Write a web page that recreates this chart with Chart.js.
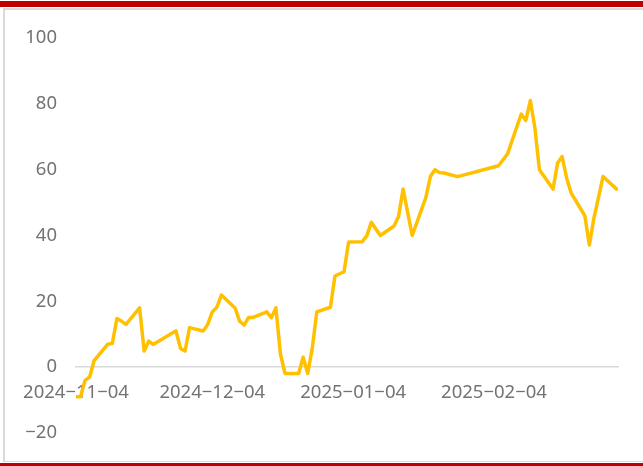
<!DOCTYPE html>
<html>
<head>
<meta charset="utf-8">
<script src="https://cdn.jsdelivr.net/npm/chart.js@4.4.1/dist/chart.umd.min.js"></script>
<style>
  html, body { margin: 0; padding: 0; background: #fff; }
  #wrap { position: relative; width: 643px; height: 466px; overflow: hidden; }
  .bar { position: absolute; }
  #chart { position: absolute; left: 0; top: 0; }
</style>
</head>
<body>
<div id="wrap">
  <div class="bar" style="left:0;top:1px;width:643px;height:6px;background:#c00000"></div>
  <div class="bar" style="left:3px;top:8px;width:640px;height:2px;background:#d9d9d9"></div>
  <div class="bar" style="left:3px;top:8px;width:2px;height:454px;background:#d9d9d9"></div>
  <div class="bar" style="left:3px;top:461px;width:640px;height:1px;background:#d9d9d9"></div>
  <div class="bar" style="left:0;top:463px;width:643px;height:3px;background:#c00000"></div>
  <canvas id="chart" width="643" height="466"></canvas>
</div>
<script>
// trading days and index values
const dates = [
  '2024-11-04', '2024-11-05', '2024-11-06', '2024-11-07', '2024-11-08',
  '2024-11-11', '2024-11-12', '2024-11-13', '2024-11-14', '2024-11-15',
  '2024-11-18', '2024-11-19', '2024-11-20', '2024-11-21', '2024-11-22',
  '2024-11-25', '2024-11-26', '2024-11-27', '2024-11-28', '2024-11-29',
  '2024-12-02', '2024-12-03', '2024-12-04', '2024-12-05', '2024-12-06',
  '2024-12-09', '2024-12-10', '2024-12-11', '2024-12-12', '2024-12-13',
  '2024-12-16', '2024-12-17', '2024-12-18', '2024-12-19', '2024-12-20',
  '2024-12-23', '2024-12-24', '2024-12-25', '2024-12-26', '2024-12-27',
  '2024-12-30', '2024-12-31', '2025-01-02', '2025-01-03',
  '2025-01-06', '2025-01-07', '2025-01-08', '2025-01-09', '2025-01-10',
  '2025-01-13', '2025-01-14', '2025-01-15', '2025-01-16', '2025-01-17',
  '2025-01-20', '2025-01-21', '2025-01-22', '2025-01-23', '2025-01-24',
  '2025-01-27', '2025-02-05', '2025-02-06', '2025-02-07',
  '2025-02-10', '2025-02-11', '2025-02-12', '2025-02-13', '2025-02-14',
  '2025-02-17', '2025-02-18', '2025-02-19', '2025-02-20', '2025-02-21',
  '2025-02-24', '2025-02-25', '2025-02-26', '2025-02-27', '2025-02-28',
  '2025-03-03'
];
const values = [
  -9, -9, -4, -3, 2,
  7, 7.2, 14.8, 14, 13,
  18, 4.9, 7.9, 6.9, 7.7,
  10.2, 11, 5.7, 4.9, 12,
  11, 13, 16.8, 18.2, 21.9,
  18, 14, 12.8, 15.1, 15.1,
  16.8, 15, 18, 4, -1.9,
  -1.9, 3, -1.9, 5.7, 16.8,
  18.2, 27.7, 29, 38,
  38.1, 39.9, 44, 42, 40,
  42.9, 45.8, 54.1, 47, 40,
  51.5, 57.9, 60, 59.1, 59,
  57.9, 61.2, 63, 64.8,
  76.9, 74.9, 81, 72.8, 60,
  54.1, 62, 64, 57.4, 52.9,
  46, 37.1, 45.3, 51.5, 57.9,
  54.1
];
const xTickLabels = ['2024-11-04', '2024-12-04', '2025-01-04', '2025-02-04'];
const yTicks = [-20, 0, 20, 40, 60, 80, 100];

const startDate = dates[0];
function dayIndex(s) {
  const p = s.split('-').map(Number);
  const q = startDate.split('-').map(Number);
  return Math.round((Date.UTC(p[0], p[1] - 1, p[2]) - Date.UTC(q[0], q[1] - 1, q[2])) / 86400000);
}

const points = dates.map((d, i) => ({ x: dayIndex(d), y: values[i] }));
const xTickDays = xTickLabels.map(dayIndex);
const minus = s => String(s).replace(/-/g, '\u2212');

const tickFont = { family: "'Noto Sans', sans-serif", size: 18.5 };

new Chart(document.getElementById('chart'), {
  type: 'line',
  data: {
    datasets: [{
      data: points,
      borderColor: '#ffc000',
      borderWidth: 3.5,
      pointRadius: 0,
      tension: 0,
      borderJoinStyle: 'round',
      borderCapStyle: 'round'
    }]
  },
  options: {
    responsive: false,
    animation: false,
    layout: { padding: { top: 38, bottom: 33, right: 25, left: 0 } },
    plugins: { legend: { display: false }, tooltip: { enabled: false } },
    scales: {
      x: {
        type: 'linear',
        position: { y: 0 },
        min: 0,
        max: 119.3,
        grid: { display: false, drawTicks: false },
        border: { display: true, color: '#d9d9d9', width: 1.5 },
        afterBuildTicks: scale => { scale.ticks = xTickDays.map(v => ({ value: v })); },
        ticks: {
          autoSkip: false,
          maxRotation: 0,
          padding: 14,
          color: '#737373',
          font: tickFont,
          callback: v => {
            const i = xTickDays.indexOf(v);
            return i >= 0 ? minus(xTickLabels[i]) : '';
          }
        }
      },
      y: {
        min: yTicks[0],
        max: yTicks[yTicks.length - 1],
        grid: { display: false, drawTicks: false },
        border: { display: false },
        afterFit: scale => { scale.width = 76; },
        afterBuildTicks: scale => { scale.ticks = yTicks.map(v => ({ value: v })); },
        ticks: {
          padding: 19,
          color: '#737373',
          font: tickFont,
          callback: v => minus(v)
        }
      }
    }
  }
});
</script>
</body>
</html>
